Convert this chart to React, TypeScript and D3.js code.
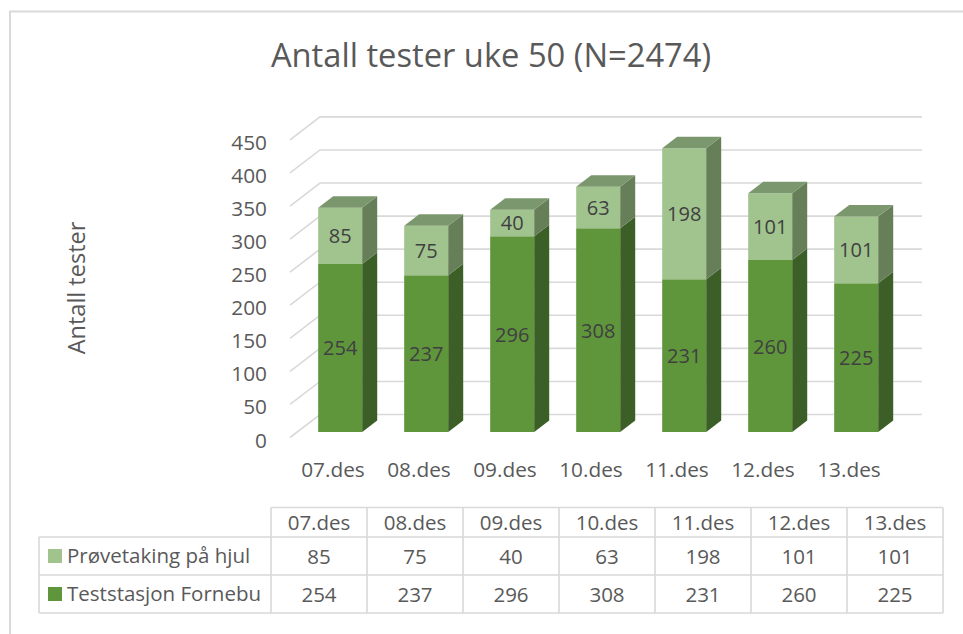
import React from "react";
import * as d3 from "d3";

const title = "Antall tester uke 50 (N=2474)";
const yAxisTitle = "Antall tester";
const categories = ["07.des", "08.des", "09.des", "10.des", "11.des", "12.des", "13.des"];
const seriesNames = ["Teststasjon Fornebu", "Prøvetaking på hjul"];
const fornebu = [254, 237, 296, 308, 231, 260, 225];
const hjul = [85, 75, 40, 63, 198, 101, 101];
const yTicks = [0, 50, 100, 150, 200, 250, 300, 350, 400, 450];

const W = 963;
const H = 634;
const FONT = "'Open Sans', 'DejaVu Sans', sans-serif";
const TXT = "#595959";
const GRID = "#d9d9d9";

// palette per series: [front, side, top]
const colors = [
  ["#5f963c", "#3c5f27", "#4d7a32"],
  ["#a1c48f", "#677f59", "#7b976d"],
];

const DX = 30;
const DY = -23;
const F0 = 0.24;
const F1 = 0.74;

export default function App() {
  const x = d3
    .scaleBand<string>()
    .domain(categories)
    .range([290, 892])
    .paddingInner(0.488)
    .paddingOuter(0.244);
  const y = d3.scaleLinear().domain([0, 450]).range([437.5, 139.9]);

  const P = (px: number, v: number, f: number): [number, number] => [px + DX * f, y(v) + DY * f];
  const poly = (pts: [number, number][]) => pts.map((p) => p.join(",")).join(" ");

  const stack = d3.stack<number>().keys(["0", "1"]).value((i, k) => (k === "0" ? fornebu[i] : hjul[i]));
  const stacked = stack(categories.map((_, i) => i));

  const tableX = d3.scaleBand<string>().domain(categories).range([271, 943]);
  const tableRows = [
    { name: seriesNames[1], values: hjul, color: colors[1][0] },
    { name: seriesNames[0], values: fornebu, color: colors[0][0] },
  ];
  const rowTop = [537, 575];
  const rowH = 38;

  return (
    <svg
      width={W}
      height={H}
      style={{ position: "absolute", left: 0, top: 0, background: "#fff" }}
      fontFamily={FONT}
    >
      <rect x={0} y={0} width={W} height={H} fill="#fff" />
      <rect x={10} y={11.5} width={1000} height={700} fill="none" stroke={GRID} strokeWidth={2} />

      <text x={491} y={66.5} textAnchor="middle" fontSize={32.7} fill={TXT}>
        {title}
      </text>

      <text
        transform={`translate(84.5,288) rotate(-90)`}
        textAnchor="middle"
        fontSize={23.5}
        fill={TXT}
      >
        {yAxisTitle}
      </text>

      {/* gridlines: left wall diagonals + back wall */}
      {yTicks.map((t) => {
        const a = P(290, t, 0);
        const b = P(290, t, 1);
        const c = P(892, t, 1);
        return (
          <g key={t}>
            <polyline points={poly([a, b, c])} fill="none" stroke={GRID} strokeWidth={1.6} />
            <text x={267} y={y(t) + 10} textAnchor="end" fontSize={20.8} fill={TXT}>
              {t}
            </text>
          </g>
        );
      })}

      {/* bars */}
      {categories.map((cat, i) => {
        const x0 = x(cat)!;
        const x1 = x0 + x.bandwidth();
        return (
          <g key={cat}>
            {stacked.map((s, si) => {
              const v0 = s[i][0];
              const v1 = s[i][1];
              const [fc, sc, tc] = colors[si];
              const isTop = si === stacked.length - 1;
              return (
                <g key={si}>
                  <polygon points={poly([P(x0, v0, F0), P(x1, v0, F0), P(x1, v1, F0), P(x0, v1, F0)])} fill={fc} />
                  <polygon points={poly([P(x1, v0, F0), P(x1, v1, F0), P(x1, v1, F1), P(x1, v0, F1)])} fill={sc} />
                  {isTop && (
                    <polygon points={poly([P(x0, v1, F0), P(x1, v1, F0), P(x1, v1, F1), P(x0, v1, F1)])} fill={tc} />
                  )}
                </g>
              );
            })}
            {stacked.map((s, si) => {
              const v0 = s[i][0];
              const v1 = s[i][1];
              const cx = (x0 + x1) / 2 + DX * F0;
              const cy = (y(v0) + y(v1)) / 2 + DY * F0;
              return (
                <text key={"l" + si} x={cx} y={cy + 7.5} textAnchor="middle" fontSize={20} fill="#404040">
                  {si === 0 ? fornebu[i] : hjul[i]}
                </text>
              );
            })}
            <text x={x0 + x.bandwidth() / 2} y={476.5} textAnchor="middle" fontSize={20.8} fill={TXT}>
              {cat}
            </text>
          </g>
        );
      })}

      {/* data table */}
      <g stroke={GRID} strokeWidth={1.6} fill="none">
        <line x1={271} x2={943} y1={507.5} y2={507.5} />
        <line x1={39} x2={943} y1={537} y2={537} />
        <line x1={39} x2={943} y1={575} y2={575} />
        <line x1={39} x2={943} y1={613} y2={613} />
        <line x1={39} x2={39} y1={537} y2={613} />
        <line x1={271} x2={271} y1={507.5} y2={613} />
        {categories.map((c) => (
          <line key={c} x1={tableX(c)! + tableX.bandwidth()} x2={tableX(c)! + tableX.bandwidth()} y1={507.5} y2={613} />
        ))}
      </g>
      {categories.map((c) => (
        <text key={c} x={tableX(c)! + tableX.bandwidth() / 2} y={529.5} textAnchor="middle" fontSize={20.5} fill={TXT}>
          {c}
        </text>
      ))}
      {tableRows.map((r, ri) => (
        <g key={r.name}>
          <rect x={48} y={rowTop[ri] + 12} width={14} height={14} fill={r.color} />
          <text x={67} y={rowTop[ri] + 26} fontSize={20.5} fill={TXT}>
            {r.name}
          </text>
          {categories.map((c, ci) => (
            <text
              key={c}
              x={tableX(c)! + tableX.bandwidth() / 2}
              y={rowTop[ri] + 26.5}
              textAnchor="middle"
              fontSize={20.5}
              fill={TXT}
            >
              {r.values[ci]}
            </text>
          ))}
        </g>
      ))}
    </svg>
  );
}
